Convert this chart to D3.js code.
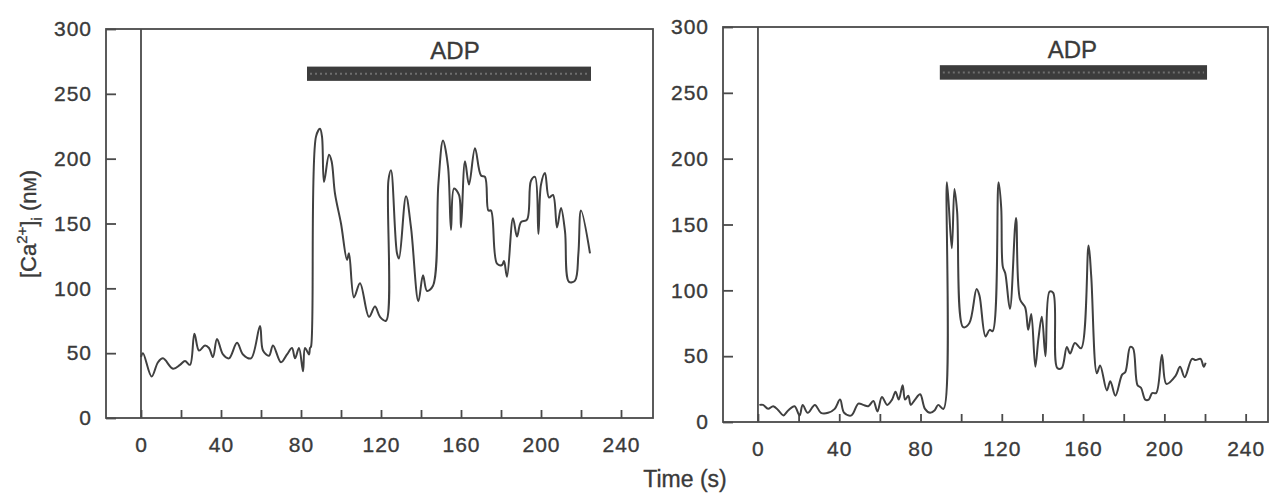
<!DOCTYPE html>
<html>
<head>
<meta charset="utf-8">
<script src="https://cdn.jsdelivr.net/npm/d3@7"></script>
<style>
  body { margin: 0; background: #fff; }
  text { font-family: "Liberation Sans", Arial, sans-serif; fill: #3a3a3a; stroke: #3a3a3a; stroke-width: 0.35px; }
</style>
</head>
<body>
<script>
// left trace: time (s) and [Ca2+]i (nM)
var leftTime = [0, 1, 5.3, 8.5, 11, 16, 19.5, 22, 24.5, 26.7, 29, 32, 34, 36, 38, 41, 44, 48, 51, 55,
  59.5, 61, 64, 66, 70, 73, 75.5, 77, 79, 81, 82, 84, 84.5, 85, 87.5, 89.5, 90.5, 91.5, 94, 95.3,
  97, 100, 103, 104, 106.5, 109.5, 114, 117, 119.5, 122.5, 123.7, 125, 128, 129, 132.5, 135, 138.7, 141, 143, 146,
  148.7, 151, 153.5, 155, 156.5, 159, 160, 162, 164, 167, 170, 172, 173.7, 175, 178, 180.5, 181.5, 183, 186, 188,
  190, 193, 195, 197, 198.7, 200, 202, 204, 206, 208, 210, 212, 214, 217, 218.7, 220, 224.5];
var leftCa = [47, 50, 32, 43, 46, 38, 41, 44, 41, 65, 52, 56, 54, 47, 61, 49, 46, 58, 49, 46,
  71, 52, 48, 56, 43, 49, 54, 46, 54, 36, 54, 49, 54, 55, 217, 223, 217, 182, 203, 198,
  173, 150, 122, 127, 93, 104, 78, 86, 78, 75, 183, 191, 127, 123, 171, 147, 90, 110, 98, 102,
  181, 214, 194, 145, 177, 172, 147, 198, 180, 208, 187, 186, 160, 160, 119, 118, 121, 109, 154, 140,
  151, 153, 183, 186, 142, 180, 189, 170, 172, 147, 162, 144, 105, 106, 127, 160, 127];

// right trace
var rightTime = [0.7, 2.5, 5, 7.5, 10, 12.5, 15, 18, 20.5, 22, 24.5, 28, 31, 34.5, 37.8, 40.4, 42.4, 46, 49.4, 51.8,
  54.3, 56.8, 58.8, 61, 63.6, 66, 67.7, 69.3, 71.2, 72.4, 74, 75.2, 77.3, 79.8, 82.2, 84.7, 87, 88.7, 91.3, 93,
  95.4, 96.7, 98, 101, 104, 107.6, 109, 112, 114, 115.5, 118.4, 119.7, 120.5, 121.7, 124, 127, 129, 131.5, 133, 134.5,
  136.5, 138, 139.7, 141.5, 143.5, 145.3, 147.3, 149.5, 152, 153.6, 156, 159, 162.7, 164, 166.8, 168.4, 171.7, 173.4, 175.9, 179.2,
  180.8, 183.2, 184.6, 186.8, 188.5, 190.6, 192.3, 194, 196, 198.8, 201, 205.5, 207.7, 210, 213.6, 215.4, 217.8, 219.4, 220.3];
var rightCa = [13, 13, 10, 12, 9, 5, 9, 12, 5, 13, 7, 13, 7, 7, 10, 17, 7, 5, 14, 13,
  12, 16, 8, 19, 13, 17, 23, 17, 28, 17, 20, 13, 17, 21, 10, 7, 9, 13, 10, 182,
  132, 177, 160, 72, 75, 101, 96, 65, 70, 69, 182, 163, 118, 113, 86, 155, 93, 87, 70, 82,
  42, 63, 80, 50, 99, 98, 41, 41, 57, 52, 60, 56, 134, 111, 37, 43, 24, 31, 20, 36,
  38, 57, 56, 28, 26, 17, 17, 22, 22, 51, 29, 35, 42, 34, 48, 47, 48, 42, 45];

// ADP application periods (s)
var leftADP = [83, 225];
var rightADP = [89.5, 221];

var xTicks = d3.range(0, 241, 20);
var yTicks = [0, 50, 100, 150, 200, 250, 300];

var ink = '#3a3a3a';

var svg = d3.select('body')
  .append('svg')
  .attr('width', 1272)
  .attr('height', 494);

function drawPanel(time, ca, adp, box) {
  var x = d3.scaleLinear().domain([box.t0, box.t1]).range([box.left, box.right]);
  var y = d3.scaleLinear().domain([0, 300]).range([box.bottom, box.top]);
  var g = svg.append('g');

  // frame
  g.append('rect')
    .attr('x', box.left)
    .attr('y', box.top)
    .attr('width', box.right - box.left)
    .attr('height', box.bottom - box.top)
    .attr('fill', 'none')
    .attr('stroke', '#4a4a4a')
    .attr('stroke-width', 1.8);

  // x axis, ticks inside
  var xAxis = g.append('g')
    .attr('transform', 'translate(0,' + box.bottom + ')')
    .call(d3.axisBottom(x)
      .tickValues(xTicks)
      .tickSize(-8)
      .tickPadding(19)
      .tickFormat(function(d) { return d % 40 === 0 ? d : ''; }));
  xAxis.select('.domain').remove();

  // y axis, ticks inside
  var yAxis = g.append('g')
    .attr('transform', 'translate(' + box.left + ',0)')
    .call(d3.axisLeft(y)
      .tickValues(yTicks)
      .tickSize(-10)
      .tickPadding(14));
  yAxis.select('.domain').remove();

  g.selectAll('.tick line')
    .attr('stroke', '#4a4a4a')
    .attr('stroke-width', 1.8);
  g.selectAll('.tick text')
    .attr('font-size', 21)
    .attr('letter-spacing', 1)
    .attr('fill', ink);

  // time zero line
  g.append('line')
    .attr('x1', x(0))
    .attr('x2', x(0))
    .attr('y1', y(0))
    .attr('y2', y(300))
    .attr('stroke', '#4a4a4a')
    .attr('stroke-width', 1.8);

  // ADP bar
  g.append('rect')
    .attr('x', x(adp[0]))
    .attr('y', y(271))
    .attr('width', x(adp[1]) - x(adp[0]))
    .attr('height', y(260) - y(271))
    .attr('fill', '#3c3c3c');
  g.append('line')
    .attr('x1', x(adp[0]) + 3)
    .attr('x2', x(adp[1]) - 3)
    .attr('y1', y(265.5))
    .attr('y2', y(265.5))
    .attr('stroke', '#6e6e6e')
    .attr('stroke-width', 2)
    .attr('stroke-dasharray', '2,3');
  g.append('text')
    .attr('x', (x(adp[0]) + x(adp[1])) / 2 + box.labelShift)
    .attr('y', y(276.5))
    .attr('text-anchor', 'middle')
    .attr('font-size', 24)
    .text('ADP');

  // trace
  var pts = time.map(function(t, i) { return [t, ca[i]]; });
  g.append('path')
    .datum(pts)
    .attr('fill', 'none')
    .attr('stroke', '#404040')
    .attr('stroke-width', 2)
    .attr('stroke-linejoin', 'round')
    .attr('d', d3.line()
      .curve(d3.curveCatmullRom.alpha(0.5))
      .x(function(d) { return x(d[0]); })
      .y(function(d) { return y(d[1]); }));
}

drawPanel(leftTime, leftCa, leftADP, { left: 106, right: 653, top: 29, bottom: 418, t0: -17.5, t1: 256, labelShift: 6 });
drawPanel(rightTime, rightCa, rightADP, { left: 723, right: 1268, top: 27, bottom: 422, t0: -17.2, t1: 251, labelShift: -1 });

// axis titles
var yTitle = svg.append('text')
  .attr('transform', 'translate(36,224) rotate(-90)')
  .attr('text-anchor', 'middle')
  .attr('font-size', 22);
yTitle.append('tspan').text('[Ca');
yTitle.append('tspan').attr('font-size', 15).attr('dy', -9).text('2+');
yTitle.append('tspan').attr('dy', 9).text(']');
yTitle.append('tspan').attr('font-size', 15).attr('dy', 6).text('i');
yTitle.append('tspan').attr('dy', -6).text(' (n');
yTitle.append('tspan').attr('font-size', 17).text('M');
yTitle.append('tspan').text(')');

svg.append('text')
  .attr('x', 685)
  .attr('y', 487)
  .attr('text-anchor', 'middle')
  .attr('font-size', 23)
  .text('Time (s)');
</script>
</body>
</html>
